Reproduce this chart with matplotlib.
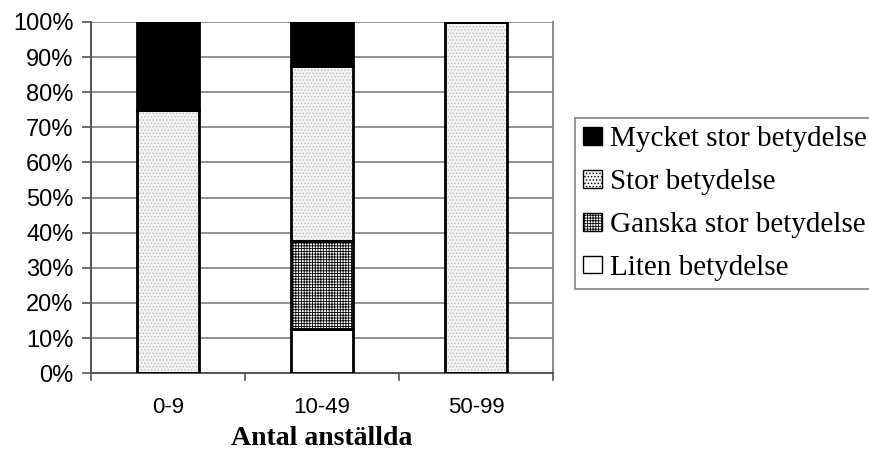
import numpy as np
import matplotlib.pyplot as plt
from matplotlib.patches import Patch

# share of answers per company size (percent)
groups = ['0-9', '10-49', '50-99']
liten = [0, 12.5, 0]
ganska = [0, 25, 0]
stor = [75, 50, 100]
mycket = [25, 12.5, 0]

labels = ['Mycket stor betydelse', 'Stor betydelse',
          'Ganska stor betydelse', 'Liten betydelse']

plt.rcParams['font.family'] = ['Liberation Sans', 'DejaVu Sans']
plt.rcParams['hatch.linewidth'] = 0.6

fig = plt.figure(figsize=(8.69, 4.63), dpi=100)
ax = fig.add_axes([0.1047, 0.194, 0.5317, 0.7585])

x = np.arange(len(groups))
w = 0.4

bottom = np.zeros(len(groups))
# bottom segment: liten
ax.bar(x, liten, w, bottom=bottom, color='white', edgecolor='black', linewidth=2, zorder=3)
bottom += liten
# ganska stor: dense grid
ax.bar(x, ganska, w, bottom=bottom, color='white', edgecolor='black', hatch='++++++',
       linewidth=0, zorder=3)
ax.bar(x, ganska, w, bottom=bottom, color='none', edgecolor='black', linewidth=2, zorder=4)
bottom += ganska
# stor: light dotted fill
ax.bar(x, stor, w, bottom=bottom, color='#f4f4f4', edgecolor='#b8b8b8', hatch='.....',
       linewidth=0, zorder=3)
ax.bar(x, stor, w, bottom=bottom, color='none', edgecolor='black', linewidth=2, zorder=4)
bottom += stor
# mycket stor: solid black
ax.bar(x, mycket, w, bottom=bottom, color='black', edgecolor='black', linewidth=2, zorder=3)

ax.set_xlim(-0.5, 2.5)
ax.set_ylim(0, 100)
ax.set_yticks(np.arange(0, 101, 10))
ax.set_yticklabels([f'{v}%' for v in range(0, 101, 10)], fontsize=17)
ax.yaxis.grid(True, color='#7f7f7f', linewidth=1.2, zorder=0)
ax.set_axisbelow(True)

ax.set_xticks([-0.5, 0.5, 1.5, 2.5])
ax.set_xticklabels([])
ax.set_xticks(x, minor=True)
ax.set_xticklabels(groups, minor=True, fontsize=16)
ax.tick_params(axis='x', which='major', length=6, width=1.2, color='#555555')
ax.tick_params(axis='x', which='minor', length=0, pad=17)
ax.tick_params(axis='y', length=6.5, width=1.2, color='#555555', pad=6)

for side in ['left', 'bottom']:
    ax.spines[side].set_color('#555555')
    ax.spines[side].set_linewidth(1.4)
ax.spines['right'].set_color('#8a8a8a')
ax.spines['right'].set_linewidth(1.4)
ax.spines['top'].set_visible(False)

ax.set_xlabel('Antal anställda', fontsize=20, fontweight='bold',
              family=['Liberation Serif'], labelpad=6)

handles = [
    Patch(facecolor='black', edgecolor='black'),
    Patch(facecolor='#f4f4f4', edgecolor='black', hatch='.....'),
    Patch(facecolor='white', edgecolor='black', hatch='++++++'),
    Patch(facecolor='white', edgecolor='black'),
]
leg = fig.legend(handles, labels, loc='upper left', bbox_to_anchor=(0.662, 0.745),
                 prop={'family': 'Liberation Serif', 'size': 21},
                 frameon=True, fancybox=False, handlelength=0.65, handleheight=0.55,
                 handletextpad=0.25, labelspacing=0.58, borderpad=0.28, borderaxespad=0)
leg.get_frame().set_edgecolor('#666666')
leg.get_frame().set_linewidth(1.2)

fig.savefig('out.png', dpi=100)
